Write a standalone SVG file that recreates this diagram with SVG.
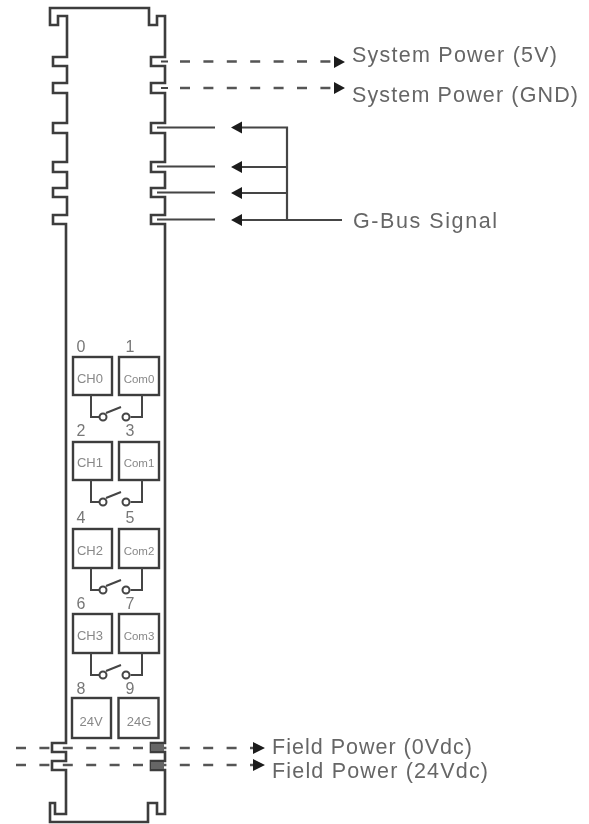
<svg xmlns="http://www.w3.org/2000/svg" width="589" height="824" viewBox="0 0 589 824">
<style>
.l{fill:none;stroke:#3c3c3c;stroke-width:2.6}
.w{fill:none;stroke:#444;stroke-width:2.2}
.d{fill:none;stroke:#555;stroke-width:2.6;stroke-dasharray:10 13.4}
.a{fill:#1c1c1c}
text{font-family:"Liberation Sans",Arial,sans-serif}
.t{font-size:21.5px;fill:#666}
.n{font-size:16px;fill:#777;text-anchor:middle}
.c{font-size:11.5px;fill:#888;text-anchor:middle}
.h{font-size:13px;fill:#888;text-anchor:middle}
.b{fill:#fff;stroke:#3c3c3c;stroke-width:2.4}
.s{fill:none;stroke:#444;stroke-width:2}
.g{filter:url(#soft)}
</style>
<defs>
<filter id="soft" x="-5%" y="-5%" width="110%" height="110%"><feGaussianBlur stdDeviation="0.7"/></filter>
<g id="sw"><path class="s" d="M0 0V22H8.500M39.500 22H51V0M15 18L30 12"/><circle class="s" cx="12" cy="22" r="3.500"/><circle class="s" cx="35" cy="22" r="3.500"/></g>
</defs>
<g class="g">
<g id="module-body">
<path class="l" d="M67 16H58V25H50V8H149V25H157V16H165V57H151V66H165V83H151V93H165V123H151V133H165V162H151V172H165V188H151V197H165V215H151V224H165V743H151V752H165V761H151V770H165V814H157V803H148V822H50V803H55V814H66V770H52V761H66V752H52V743H66V224H53V215H67V197H53V188H67V172H53V162H67V133H53V123H67V93H53V83H67V66H53V57H67Z"/>
</g>
<g id="connectors">
<path class="w" d="M161 61.500H168M161 88H168"/>
<path class="d" d="M180 61.500H335M180 88H335"/>
<path class="a" d="M334 56L345 62L334 68ZM334 82L345 88L334 94Z"/>
<path class="w" d="M157 127.500H215M157 166.500H215M157 192.500H215M157 219.500H215"/>
<path class="w" d="M240 127.500H287V220M240 167H287M240 193H287M240 220H342"/>
<path class="a" d="M242 121.500L231 127.500L242 133.500ZM242 161L231 167L242 173ZM242 187L231 193L242 199ZM242 214L231 220L242 226Z"/>
<path class="d" d="M16 748H254M16 765H254"/>
<path class="a" d="M253 742L265 748L253 754ZM253 759L265 765L253 771Z"/>
<rect x="151" y="744" width="13" height="7" fill="#666"/>
<rect x="151" y="762" width="13" height="7" fill="#666"/>
</g>
<g id="term-0"><text class="n" x="81" y="352">0</text><rect class="b" x="73" y="357" width="39" height="38"/><text class="h" x="90" y="382.500">CH0</text></g>
<g id="term-1"><text class="n" x="130" y="352">1</text><rect class="b" x="119" y="357" width="40" height="38"/><text class="c" x="139" y="382.500">Com0</text></g>
<g id="switch-0"><use href="#sw" x="91" y="395"/></g>
<g id="term-2"><text class="n" x="81" y="436">2</text><rect class="b" x="73" y="442" width="39" height="38"/><text class="h" x="90" y="466.500">CH1</text></g>
<g id="term-3"><text class="n" x="130" y="436">3</text><rect class="b" x="119" y="442" width="40" height="38"/><text class="c" x="139" y="466.500">Com1</text></g>
<g id="switch-1"><use href="#sw" x="91" y="480"/></g>
<g id="term-4"><text class="n" x="81" y="523">4</text><rect class="b" x="73" y="529" width="39" height="39"/><text class="h" x="90" y="555">CH2</text></g>
<g id="term-5"><text class="n" x="130" y="523">5</text><rect class="b" x="119" y="529" width="40" height="39"/><text class="c" x="139" y="555">Com2</text></g>
<g id="switch-2"><use href="#sw" x="91" y="568"/></g>
<g id="term-6"><text class="n" x="81" y="609">6</text><rect class="b" x="73" y="614" width="39" height="39"/><text class="h" x="90" y="640">CH3</text></g>
<g id="term-7"><text class="n" x="130" y="609">7</text><rect class="b" x="119" y="614" width="40" height="39"/><text class="c" x="139" y="640">Com3</text></g>
<g id="switch-3"><use href="#sw" x="91" y="653"/></g>
<g id="term-8"><text class="n" x="81" y="694">8</text><rect class="b" x="72" y="698" width="39" height="40"/><text class="h" x="91" y="726">24V</text></g>
<g id="term-9"><text class="n" x="130" y="694">9</text><rect class="b" x="118.500" y="698" width="40" height="40"/><text class="h" x="139" y="726">24G</text></g>
<g id="label-5v"><text class="t" x="352" y="62" textLength="205" lengthAdjust="spacing">System Power (5V)</text></g>
<g id="label-gnd"><text class="t" x="352" y="102" textLength="226" lengthAdjust="spacing">System Power (GND)</text></g>
<g id="label-gbus"><text class="t" x="353" y="228" textLength="144" lengthAdjust="spacing">G-Bus Signal</text></g>
<g id="label-0vdc"><text class="t" x="272" y="754" textLength="200" lengthAdjust="spacing">Field Power (0Vdc)</text></g>
<g id="label-24vdc"><text class="t" x="272" y="778" textLength="216" lengthAdjust="spacing">Field Power (24Vdc)</text></g>
</g>
</svg>
